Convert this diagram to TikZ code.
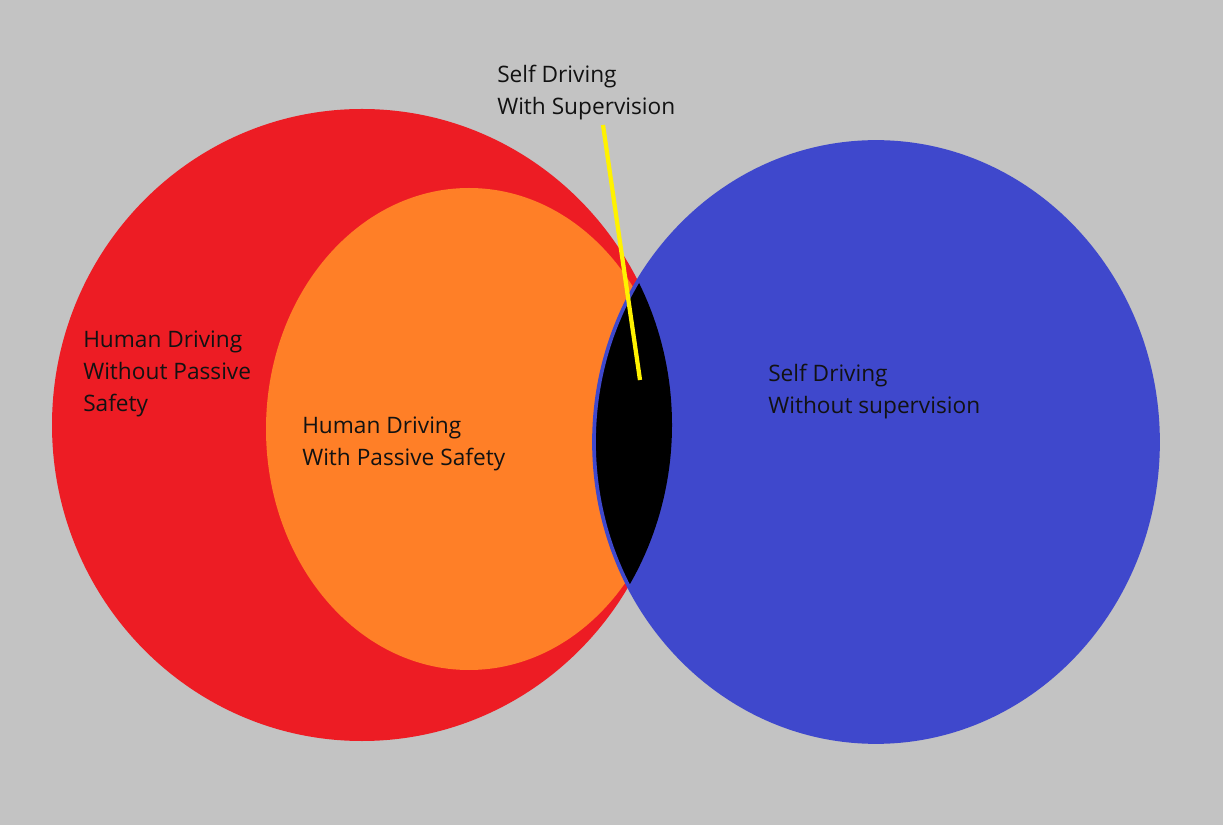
\documentclass[tikz,border=0pt]{standalone}
\usepackage{fontspec}
\setmainfont{Open Sans}
\usepackage{xcolor}
\usepackage{tikz}
\definecolor{bggray}{HTML}{C3C3C3}
\definecolor{hred}{HTML}{ED1C24}
\definecolor{horange}{HTML}{FF7F27}
\definecolor{sblue}{HTML}{3F48CC}
\definecolor{pointer}{HTML}{FFF200}

\begin{document}
\begin{tikzpicture}[x=0.75pt, y=0.75pt,
  lbl/.style={anchor=west, align=left, inner sep=0pt, text=black!93,
    font=\fontsize{17}{24}\selectfont}]
\fill[bggray] (0,0) rectangle (1223,825);
\useasboundingbox (0,0) rectangle (1223,825);
% the three sets
\fill[hred] (362,400) ellipse [x radius=310, y radius=316];
\fill[horange] (469,396) ellipse [x radius=203, y radius=241];
\fill[sblue] (876,383) ellipse [x radius=282, y radius=300];
% overlap of human and self driving
\begin{scope}
  \clip (362,400) ellipse [x radius=310, y radius=316];
  \fill[black] (876,383) ellipse [x radius=282, y radius=300];
\end{scope}
\draw[sblue, line width=2.8pt] (876,383) ellipse [x radius=282, y radius=300];
% labels
\node[lbl] (hnops) at (83,451) {Human Driving\\Without Passive\\Safety};
\node[lbl] (hps) at (302,381) {Human Driving\\With Passive Safety};
\node[lbl] (ssup) at (497,732) {Self Driving\\With Supervision};
\node[lbl] (snosup) at (768,433) {Self Driving\\Without supervision};
\coordinate (ptrtop) at (603,700);
\coordinate (ptrend) at (640,445);
\draw[pointer, line width=3.2pt] (ptrtop) -- (ptrend);
\end{tikzpicture}
\end{document}
